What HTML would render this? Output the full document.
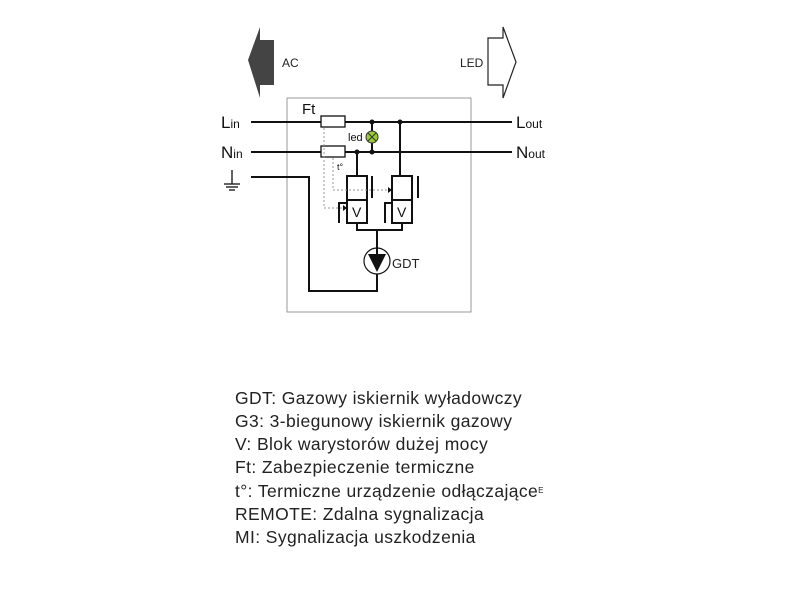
<!DOCTYPE html>
<html><head><meta charset="utf-8"><style>
body{margin:0;background:#fff;width:800px;height:600px;overflow:hidden}
.leg{position:absolute;left:235px;top:387px;font-family:"Liberation Sans",sans-serif;font-size:17.5px;line-height:23px;color:#222;letter-spacing:0.4px}
</style></head><body>
<svg width="800" height="600" style="position:absolute;left:0;top:0" font-family="Liberation Sans, sans-serif">
<rect x="287" y="98" width="184" height="214" fill="none" stroke="#999" stroke-width="1"/>
<polygon points="248,60 260,27 260,40 274,40 274,85 260,85 260,98" fill="#444"/>
<text x="282" y="67" font-size="12" fill="#222">AC</text>
<polygon points="516,62 503,27 503,38 488,38 488,85 503,85 503,98" fill="#fff" stroke="#222" stroke-width="1.2"/>
<text x="460" y="67" font-size="12" fill="#222">LED</text>
<g stroke="#111" stroke-width="2" fill="none">
<line x1="251" y1="122" x2="512" y2="122"/>
<line x1="251" y1="152" x2="512" y2="152"/>
<polyline points="251,177 309,177 309,291 377,291 377,274"/>
<line x1="357" y1="152" x2="357" y2="176"/>
<line x1="400" y1="122" x2="400" y2="176"/>
<line x1="372" y1="122" x2="372" y2="152"/>
<polyline points="357,223 357,230 402,230 402,223"/>
<line x1="377" y1="230" x2="377" y2="248"/>
<rect x="347" y="176" width="20" height="47"/>
<rect x="392" y="176" width="20" height="47"/>
<line x1="347" y1="200" x2="367" y2="200"/>
<line x1="392" y1="200" x2="412" y2="200"/>
<polyline points="339,223 339,203 347,203"/>
<polyline points="372,176 372,198"/>
<polyline points="385,223 385,203 392,203"/>
<polyline points="418,176 418,198"/>
</g>
<g stroke="#111" stroke-width="1.3" fill="#fff">
<rect x="321" y="116" width="24" height="11"/>
<rect x="321" y="146" width="24" height="11"/>
</g>
<g stroke="#999" stroke-width="1" fill="none" stroke-dasharray="2,2">
<polyline points="324,128 324,208 345,208"/>
<polyline points="333,158 333,190 390,190"/>
</g>
<polygon points="347,208 343,205 343,211" fill="#111"/>
<polygon points="392,190 388,187 388,193" fill="#111"/>
<g fill="#111"><circle cx="372" cy="122" r="2.5"/><circle cx="400" cy="122" r="2.5"/><circle cx="357" cy="152" r="2.5"/><circle cx="372" cy="152" r="2.5"/></g>
<circle cx="372" cy="137" r="6" fill="#9c3" stroke="#333" stroke-width="1"/>
<path d="M368,133 L376,141 M376,133 L368,141" stroke="#333" stroke-width="1"/>
<circle cx="377" cy="261" r="13" fill="#fff" stroke="#111" stroke-width="1.2"/>
<polygon points="368,254 386,254 377,272" fill="#111"/>
<line x1="377" y1="248" x2="377" y2="254" stroke="#111" stroke-width="2"/>
<text x="392" y="268" font-size="13" fill="#222">GDT</text>
<text x="302" y="114" font-size="15" fill="#111">Ft</text>
<text x="348" y="141" font-size="11" fill="#111">led</text>
<text x="337" y="170" font-size="9" fill="#111">t°</text>
<text x="352" y="217" font-size="14" fill="#111">V</text>
<text x="397" y="217" font-size="14" fill="#111">V</text>
<text x="221" y="128" font-size="17" fill="#111">L<tspan font-size="12">in</tspan></text>
<text x="221" y="158" font-size="17" fill="#111">N<tspan font-size="12">in</tspan></text>
<text x="516" y="128" font-size="17" fill="#111">L<tspan font-size="12">out</tspan></text>
<text x="516" y="158" font-size="17" fill="#111">N<tspan font-size="12">out</tspan></text>
<g stroke="#111" stroke-width="1.3">
<line x1="232" y1="170" x2="232" y2="184"/>
<line x1="224" y1="184" x2="240" y2="184"/>
<line x1="226" y1="187" x2="238" y2="187"/>
<line x1="229" y1="190" x2="235" y2="190"/>
</g>
</svg>
<div class="leg">GDT: Gazowy iskiernik wyładowczy<br>G3: 3-biegunowy iskiernik gazowy<br>V: Blok warystorów dużej mocy<br>Ft: Zabezpieczenie termiczne<br>t°: Termiczne urządzenie odłączające<span style="font-size:8px;vertical-align:4px">E</span><br>REMOTE: Zdalna sygnalizacja<br>MI: Sygnalizacja uszkodzenia</div>
</body></html>
